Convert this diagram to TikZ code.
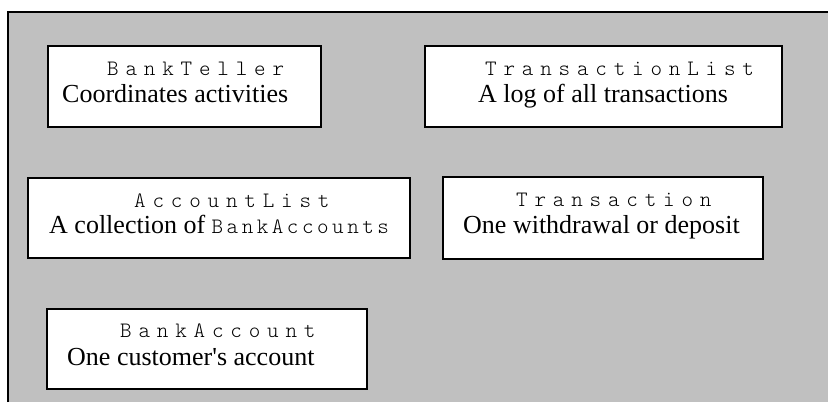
\documentclass[tikz,border=0pt]{standalone}
\usepackage{fontspec}
\setmainfont{Liberation Serif}
\newfontfamily\classfont[LetterSpace=31]{lmmonolt10-regular.otf}
\newfontfamily\inlinemono[LetterSpace=16]{lmmonolt10-regular.otf}
\usetikzlibrary{positioning}
\definecolor{panelgray}{HTML}{C0C0C0}

\begin{document}
\begin{tikzpicture}[x=1pt, y=-1pt,
	block/.style={draw, rectangle, line width=2pt, fill=white, anchor=north west, inner sep=0pt, outer sep=0pt},
	cname/.style={anchor=base west, inner sep=0pt, font=\fontsize{22}{26}\classfont},
	cdesc/.style={anchor=base west, inner sep=0pt, font=\fontsize{26}{30}\selectfont}]
	\useasboundingbox (0,0) rectangle (828,402);
	% grey panel
	\fill[panelgray] (8,12) rectangle (828,402);
	\draw[line width=1.5pt] (8,402) -- (8,12) -- (828,12);
	% class cards
	\node (teller) [block, minimum width=273pt, minimum height=81pt] at (48,46) {};
	\node (tellerName) [cname] at (107,75) {BankTeller};
	\node (tellerDesc) [cdesc] at (62,102) {Coordinates activities};
	\node (tlist) [block, minimum width=357pt, minimum height=81pt] at (425,46) {};
	\node (tlistName) [cname] at (485,75) {TransactionList};
	\node (tlistDesc) [cdesc] at (478,102) {A log of all transactions};
	\node (alist) [block, minimum width=382pt, minimum height=80pt] at (28,178) {};
	\node (alistName) [cname] at (134,207) {AccountList};
	\node (alistDesc) [cdesc] at (49,233) {A collection of {\fontsize{22}{26}\inlinemono BankAccounts}};
	\node (trans) [block, minimum width=320pt, minimum height=82pt] at (443,177) {};
	\node (transName) [cname] at (516,206) {Transaction};
	\node (transDesc) [cdesc] at (463,233) {One withdrawal or deposit};
	\node (account) [block, minimum width=320pt, minimum height=80pt] at (47,309) {};
	\node (accountName) [cname] at (120,337) {BankAccount};
	\node (accountDesc) [cdesc] at (67,365) {One customer\textquotesingle s account};
\end{tikzpicture}
\end{document}
